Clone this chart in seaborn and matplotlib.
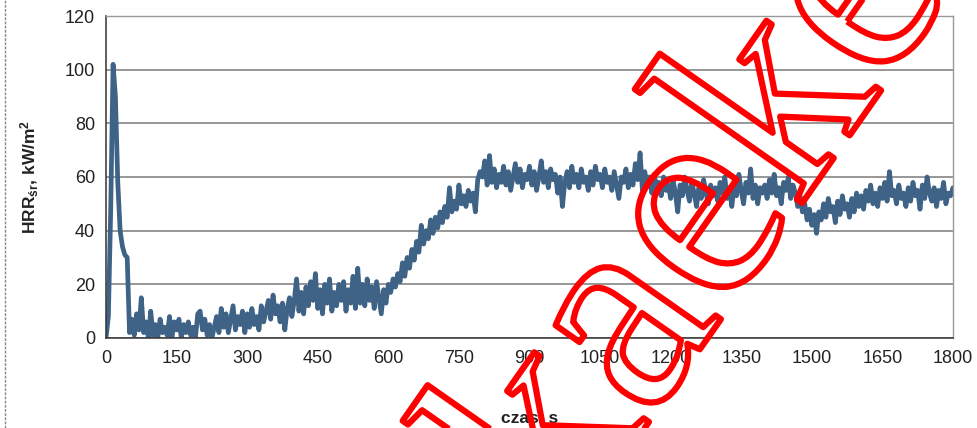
import numpy as np
import pandas as pd
import matplotlib
matplotlib.use("Agg")
import matplotlib.pyplot as plt
import matplotlib.patheffects as pe
from matplotlib.lines import Line2D
import seaborn as sns

# czas co 5 s, HRR
czas = list(range(0, 1805, 5))
hrr = [
    0, 8, 48, 102, 90, 58, 40, 34, 31, 30, 2, 7, 1, 9, 3, 15, 2, 6, 0, 10,
    1, 5, 0, 7, 2, 4, 1, 8, 0, 6, 3, 7, 0, 5, 2, 6, 1, 4, 0, 9,
    10, 3, 7, 1, 5, 0, 4, 8, 2, 11, 4, 9, 2, 7, 12, 3, 8, 5, 10, 2,
    9, 4, 11, 5, 8, 3, 12, 6, 10, 14, 7, 16, 9, 12, 6, 13, 3, 11, 15, 8,
    14, 22, 10, 17, 9, 19, 12, 21, 14, 24, 11, 18, 9, 20, 13, 22, 10, 17, 12, 20,
    14, 21, 10, 18, 13, 23, 11, 26, 13, 20, 12, 22, 14, 19, 11, 21, 15, 9, 18, 13,
    20, 17, 22, 19, 24, 21, 28, 23, 30, 26, 33, 29, 36, 32, 42, 35, 40, 37, 44, 39,
    45, 41, 47, 43, 49, 45, 56, 47, 51, 48, 57, 50, 53, 49, 55, 51, 54, 47, 59, 62,
    60, 66, 57, 68, 58, 63, 56, 61, 58, 64, 57, 62, 55, 60, 65, 58, 63, 56, 61, 59,
    64, 57, 62, 55, 60, 66, 58, 62, 56, 63, 59, 61, 54, 60, 49, 58, 62, 56, 64, 58,
    61, 56, 63, 58, 60, 55, 62, 57, 64, 59, 61, 56, 63, 58, 60, 55, 62, 57, 52, 60,
    58, 63, 56, 61, 57, 65, 59, 69, 55, 62, 57, 60, 54, 61, 56, 58, 53, 60, 55, 57,
    52, 59, 54, 47, 57, 53, 60, 55, 51, 58, 54, 49, 56, 52, 59, 54, 50, 57, 53, 56,
    51, 58, 54, 60, 52, 56, 49, 57, 53, 61, 55, 50, 58, 54, 63, 52, 57, 50, 56, 54,
    57, 52, 59, 54, 61, 53, 56, 50, 58, 55, 60, 52, 57, 54, 49, 53, 47, 50, 44, 48,
    42, 46, 39, 47, 44, 50, 45, 52, 47, 49, 43, 51, 46, 53, 48, 50, 45, 52, 47, 54,
    49, 53, 48, 55, 51, 57, 50, 54, 49, 56, 52, 58, 51, 62, 53, 55, 50, 57, 52, 54,
    49, 56, 51, 58, 53, 55, 48, 57, 52, 60, 54, 51, 56, 49, 55, 52, 58, 50, 54, 53,
    56,
]
x_ticks = list(range(0, 1801, 150))
y_ticks = list(range(0, 121, 20))

df = pd.DataFrame({"czas": czas, "hrr": hrr})

sns.set_theme(style="white")
plt.rcParams["font.family"] = ["Liberation Sans", "DejaVu Sans"]
plt.rcParams["mathtext.fontset"] = "custom"
plt.rcParams["mathtext.rm"] = "Liberation Sans:bold"
plt.rcParams["mathtext.it"] = "Liberation Sans:bold"
plt.rcParams["mathtext.bf"] = "Liberation Sans:bold"

fig = plt.figure(figsize=(9.78, 4.28), dpi=100)
ax = fig.add_axes([0.1084, 0.2103, 0.8660, 0.7523])

sns.lineplot(data=df, x="czas", y="hrr", ax=ax, color="#3f6387", linewidth=3.4)

ax.set_xlim(0, 1800)
ax.set_ylim(0, 120)
ax.set_xticks(x_ticks)
ax.set_yticks(y_ticks)
ax.yaxis.grid(True, color="#7a7a7a", linewidth=1.1)
ax.xaxis.grid(False)
ax.set_axisbelow(True)

for s in ["left", "bottom"]:
    ax.spines[s].set_color("#333333")
    ax.spines[s].set_linewidth(1.1)
for s in ["top", "right"]:
    ax.spines[s].set_color("#999999")
    ax.spines[s].set_linestyle((0, (2, 1)))
    ax.spines[s].set_linewidth(1.0)

ax.tick_params(axis="both", direction="out", length=5, width=1,
               color="#333333", labelsize=13, labelcolor="#222222")
ax.tick_params(axis="x", pad=4)
ax.tick_params(axis="y", pad=3)

ax.set_xlabel("czas, s", fontsize=12.5, fontweight="bold", color="#222222", labelpad=31)
ax.set_ylabel(r"HRR$_{\mathrm{śr}}$, kW/m$^{\mathrm{2}}$", fontsize=12.5,
              fontweight="bold", color="#222222", labelpad=17)

# ramka po lewej
fig.add_artist(Line2D([0.005, 0.005], [0, 1], transform=fig.transFigure,
                      color="#888888", linewidth=1, linestyle=(0, (2, 1))))

# znak wodny
fig.text(0.578, -0.265, "kaeke", fontsize=210, family="Liberation Serif",
         rotation=55, rotation_mode="anchor", ha="left", va="baseline",
         color=(1, 1, 1, 0),
         path_effects=[pe.Stroke(linewidth=4.5, foreground="#ff0000"), pe.Normal()])

fig.savefig("out.png", dpi=100)
